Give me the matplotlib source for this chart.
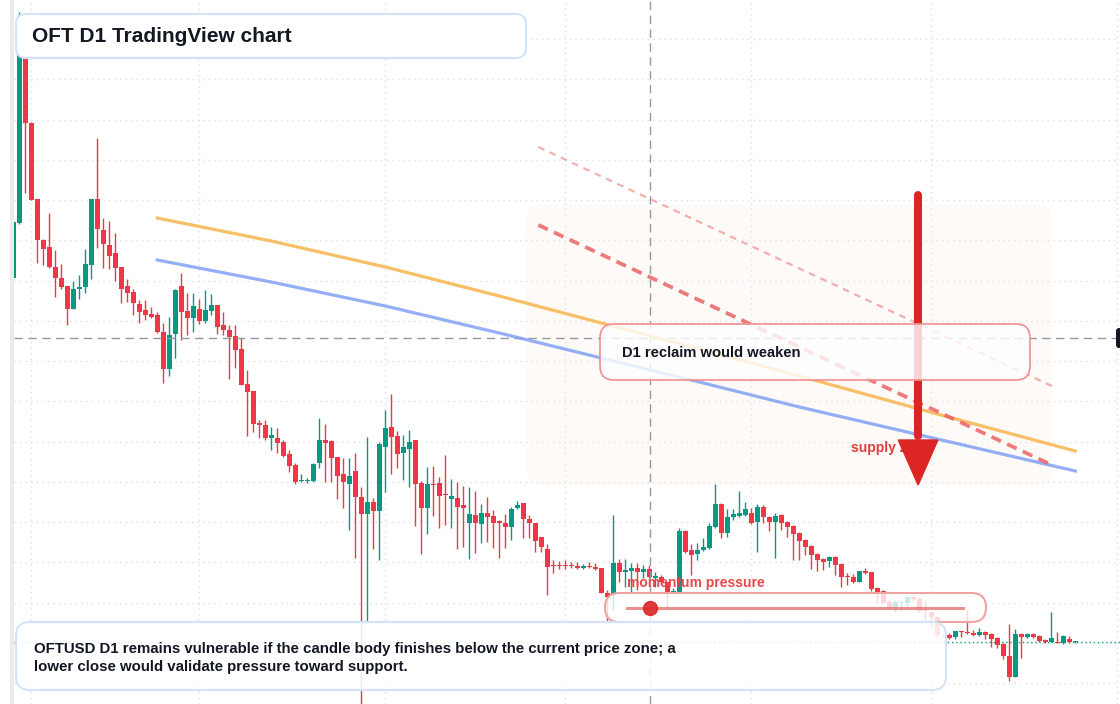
import numpy as np
import matplotlib.pyplot as plt
from matplotlib.patches import FancyBboxPatch, Rectangle, Polygon

plt.rcParams['font.family'] = ['Liberation Sans', 'DejaVu Sans']

# daily OHLC, prices in units of 0.0001 USD
opens = [426, 481, 672, 581, 505, 464, 457, 437, 426, 418, 395, 415, 417, 439, 505, 474, 459, 451, 437, 418,
         412, 400, 394, 390, 389, 372, 335, 370, 418, 393, 386, 395, 383, 393, 399, 379, 374, 368, 355, 320,
         313, 281, 279, 266, 266, 262, 250, 239, 223, 223, 223, 241, 264, 263, 247, 230, 220, 233, 207, 190,
         202, 193, 257, 277, 268, 251, 255, 264, 221, 196, 220, 221, 210, 205, 206, 199, 181, 189, 180, 191,
         188, 183, 181, 177, 196, 201, 185, 181, 167, 155, 139, 139, 139, 139, 138, 136, 138, 137, 136, 111,
         109, 141, 132, 133, 136, 132, 135, 126, 127, 122, 111, 112, 173, 154, 150, 154, 156, 177, 200, 171,
         187, 188, 189, 191, 182, 197, 187, 182, 189, 182, 178, 171, 164, 158, 150, 145, 143, 147, 140, 128,
         127, 122, 133, 132, 116, 113, 102, 96, 101, 101, 107, 105, 94, 92, 87, 68, 69, 67, 73, 72,
         71, 69, 72, 70, 66, 60, 48, 27, 70, 67, 70, 68, 64, 62, 62, 61, 65, 62]
highs = [484, 692, 682, 582, 505, 465, 491, 454, 440, 418, 423, 429, 455, 505, 566, 486, 483, 471, 437, 425,
         415, 404, 404, 397, 392, 381, 387, 415, 431, 411, 411, 405, 414, 410, 399, 392, 379, 379, 366, 334,
         313, 284, 284, 277, 276, 264, 254, 241, 230, 226, 241, 286, 280, 264, 247, 246, 246, 251, 217, 267,
         206, 262, 294, 310, 273, 269, 274, 264, 223, 237, 238, 227, 249, 225, 222, 218, 217, 213, 200, 207,
         194, 184, 190, 197, 203, 201, 189, 181, 167, 160, 144, 143, 144, 142, 142, 140, 142, 141, 136, 114,
         189, 145, 145, 141, 141, 139, 139, 132, 129, 122, 116, 176, 174, 160, 161, 166, 181, 220, 201, 195,
         195, 213, 202, 196, 200, 199, 188, 191, 190, 183, 179, 172, 165, 159, 151, 146, 148, 148, 141, 131,
         130, 133, 136, 132, 117, 114, 104, 104, 103, 108, 109, 107, 104, 93, 88, 71, 71, 73, 73, 94,
         74, 76, 73, 71, 67, 61, 80, 75, 71, 71, 71, 69, 65, 92, 72, 69, 68, 63]
lows = [426, 480, 511, 504, 441, 439, 436, 407, 415, 379, 395, 405, 411, 425, 456, 436, 435, 423, 401, 402,
        389, 381, 384, 386, 371, 321, 328, 346, 364, 369, 372, 380, 381, 389, 370, 369, 325, 336, 319, 268,
        272, 266, 264, 254, 251, 247, 232, 220, 222, 221, 222, 236, 222, 222, 205, 196, 174, 146, -10, 81,
        155, 144, 212, 230, 236, 224, 217, 178, 150, 170, 188, 176, 179, 176, 155, 157, 145, 151, 161, 162,
        156, 146, 156, 164, 195, 166, 166, 152, 152, 109, 131, 135, 135, 136, 135, 135, 136, 134, 111, 83,
        94, 122, 117, 111, 114, 126, 126, 117, 121, 97, 110, 111, 151, 129, 144, 153, 155, 176, 166, 167,
        184, 187, 188, 180, 152, 181, 173, 146, 174, 167, 144, 144, 149, 135, 133, 134, 137, 129, 117, 119,
        121, 122, 130, 113, 101, 100, 95, 92, 93, 94, 103, 92, 84, 77, 66, 67, 65, 65, 67, 70,
        68, 68, 65, 57, 56, 45, 23, 27, 46, 66, 66, 62, 61, 62, 61, 60, 61, 61]
closes = [482, 672, 581, 504, 464, 455, 437, 426, 417, 395, 415, 417, 440, 505, 475, 460, 448, 436, 415, 411,
          401, 392, 389, 387, 372, 335, 369, 414, 392, 386, 398, 383, 394, 399, 377, 374, 367, 354, 319, 312,
          280, 279, 266, 269, 261, 248, 238, 222, 224, 224, 240, 264, 261, 246, 228, 222, 228, 207, 190, 202,
          193, 260, 276, 267, 250, 257, 262, 220, 196, 220, 219, 208, 209, 208, 197, 196, 190, 181, 191, 187,
          181, 181, 177, 195, 199, 185, 181, 163, 157, 137, 138, 138, 138, 138, 136, 138, 137, 135, 111, 107,
          141, 132, 134, 136, 132, 135, 127, 128, 122, 111, 113, 173, 152, 149, 154, 157, 178, 200, 171, 187,
          190, 191, 195, 181, 197, 187, 182, 188, 181, 177, 170, 163, 157, 149, 144, 142, 147, 139, 127, 127,
          122, 133, 131, 115, 112, 101, 96, 102, 102, 107, 105, 93, 93, 87, 69, 69, 66, 73, 72, 71,
          69, 72, 69, 65, 59, 48, 27, 70, 67, 70, 67, 63, 62, 66, 61, 68, 62, 62]

# moving-average style curves (candle index, price)
ma_x = [24, 43, 62, 81, 98, 115, 131, 154, 177]
ma_orange = [486, 463, 437, 408, 381, 354, 328, 290, 253]
ma_blue = [444, 422, 398, 371, 346, 321, 297, 265, 233]

# descending resistance lines
res_x = [87.5, 173.1]
res_upper = [557, 318]
res_lower = [479, 239]

month_ticks = [3, 31, 62, 92, 123, 153, 184]
SCALE = 1e-4

o = np.array(opens) * SCALE
h = np.array(highs) * SCALE
l = np.array(lows) * SCALE
c = np.array(closes) * SCALE
idx = np.arange(len(o))

W, H = 1120, 704
UP, DOWN = '#089981', '#f23645'
INK = '#131722'

fig = plt.figure(figsize=(W / 100, H / 100), dpi=100)
ax = fig.add_axes([14 / W, 0, 1 - 14 / W, 1])
ax.set_xlim(0.117, 184.45)
ax.set_ylim(0, 0.0704)
ax.set_xticks(month_ticks)
ax.set_yticks(0.0021 + 0.004025 * np.arange(17))
ax.grid(True, color='#dcdfe5', linestyle=(0, (1, 3)), linewidth=1)
ax.tick_params(length=0, labelleft=False, labelbottom=False)
for s in ax.spines.values():
    s.set_visible(False)
ax.set_axisbelow(True)

# supply zone shade
zone = FancyBboxPatch((85.6, 0.0219), 87.5, 0.0280, boxstyle='round,pad=0,rounding_size=2.5',
                      mutation_aspect=0.0006, fc='#fbefe4', ec='none', alpha=0.25, zorder=1)
ax.add_patch(zone)

# candles
col = np.where(c >= o, UP, DOWN)
ax.vlines(idx, l, h, colors=col, linewidth=1, zorder=3)
body_h = np.maximum(np.abs(c - o), 0.00013)
ax.bar(idx, body_h, bottom=np.minimum(o, c), width=0.75, color=col, linewidth=0, zorder=4)

ax.axhline(c[-1], color=UP, linestyle=(0, (1, 2)), linewidth=1, zorder=2)

# crosshair
ax.axvline(106.1, color='#9598a1', linewidth=1, linestyle=(0, (6, 4)), zorder=5)
ax.axhline(0.0366, xmax=0.996, color='#9598a1', linewidth=1, linestyle=(0, (6, 4)), zorder=5)

# curves and trendlines
ax.plot(ma_x, np.array(ma_orange) * SCALE, color='#f9b44c', lw=2.3, alpha=0.85, zorder=6)
ax.plot(ma_x, np.array(ma_blue) * SCALE, color='#7a9bf4', lw=2.3, alpha=0.8, zorder=6)
ax.plot(res_x, np.array(res_upper) * SCALE, color='#f19a9a', lw=1.6, alpha=0.8,
        linestyle=(0, (3, 2.6)), zorder=6)
ax.plot(res_x, np.array(res_lower) * SCALE, color='#ea6464', lw=2.7, alpha=0.85,
        linestyle=(0, (2.8, 1.8)), zorder=6)

ax.text(139.6, 0.0256, 'supply zone', color='#e23b3f', fontsize=10, fontweight='bold',
        va='center', ha='left', zorder=7)

# down arrow
ax.plot([150.8, 150.8], [0.0509, 0.0268], color='#dc2626', lw=5.8, solid_capstyle='round', zorder=8)
ax.add_patch(Polygon([[147.5, 0.0264], [154.1, 0.0264], [150.8, 0.0219]], closed=True,
                     color='#dc2626', zorder=8))

# overlay in pixel coordinates for the labels
ov = fig.add_axes([0, 0, 1, 1])
ov.set_xlim(0, W)
ov.set_ylim(H, 0)
ov.axis('off')


def rbox(x0, y0, x1, y1, r, ec, fc, lw=1.5):
    p = FancyBboxPatch((x0, y0), x1 - x0, y1 - y0, boxstyle=f'round,pad=0,rounding_size={r}',
                       ec=ec, fc=fc, lw=lw)
    ov.add_patch(p)


ov.add_patch(Rectangle((10, 0), 4, H, color='#ebebeb', lw=0))

rbox(16, 14, 526, 58, 10, '#d4e2fa', 'white')
ov.text(32, 36, 'OFT D1 TradingView chart', fontsize=15, fontweight='bold', color=INK, va='center')

rbox(600, 324, 1030, 380, 14, '#ef8f8f', (1, 1, 1, 0.8), lw=1.2)
ov.text(622, 353, 'D1 reclaim would weaken', fontsize=10.6, fontweight='bold', color=INK, va='center')

ov.text(627, 583, 'momentum pressure', fontsize=10, fontweight='bold', color='#e5484d', va='center')
rbox(605, 593, 986, 622, 14.5, '#f0a3a3', (1, 1, 1, 0.8))
ov.plot([627, 963], [608, 608], color='#e57373', lw=2.2, alpha=0.8)
ov.plot([650], [608], 'o', ms=10, color='#dc2626', alpha=0.9)

rbox(16, 622, 946, 690, 14, '#d4e2fa', (1, 1, 1, 0.88))
ov.text(34, 658, 'OFTUSD D1 remains vulnerable if the candle body finishes below the current price zone; a\n'
        'lower close would validate pressure toward support.', fontsize=10.8, fontweight='bold',
        color=INK, va='center', linespacing=1.45)

rbox(1116, 328, 1150, 348, 3, INK, INK, lw=0)

fig.savefig('out.png', dpi=100, facecolor='white')
